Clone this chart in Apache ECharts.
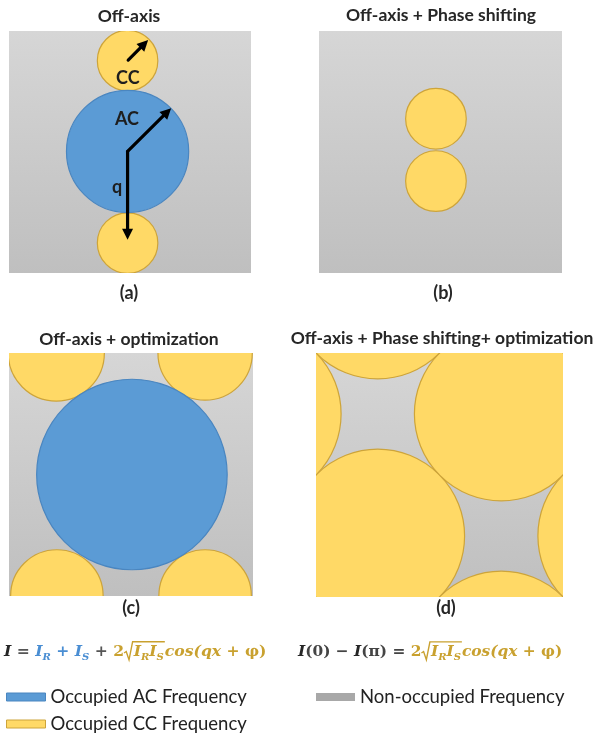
<!DOCTYPE html>
<html>
<head>
<meta charset="utf-8">
<script src="https://cdn.jsdelivr.net/npm/echarts@6/dist/echarts.min.js"></script>
<style>
  html, body { margin: 0; padding: 0; background: #ffffff; }
  #chart { width: 594px; height: 737px; }
</style>
</head>
<body>
<div id="chart"></div>
<script>
// ---- values (spectrum units: each panel spans 0..8 on both axes) ----
const panelTitles = ['Off-axis', 'Off-axis + Phase shifting', 'Off-axis + optimization', 'Off-axis + Phase shifting+ optimization'];
const panelTags = ['(a)', '(b)', '(c)', '(d)'];
const legendNames = ['Occupied AC Frequency', 'Occupied CC Frequency', 'Non-occupied Frequency'];

// spectrum frame of every panel: [x0, y0, x1, y1]
const frame = [[0, 0, 8, 8]];

// autocorrelation (AC) disks per panel: [cx, cy, r]
const acA = [[3.92, 4.02, 2.02]];
const acC = [[4.03, 4.0, 3.13]];

// cross-correlation (CC) disks per panel: [cx, cy, r]
const ccA = [[3.92, 7.02, 1.0], [3.92, 0.99, 1.0]];
const ccB = [[3.85, 5.1, 1.0], [3.85, 3.04, 1.0]];
const ccC = [[1.55, 8.0, 1.58], [6.43, 8.0, 1.55], [1.57, 0.0, 1.52], [6.43, 0.0, 1.52]];
const ccD = [[2, 2, 2.83], [6, 6, 2.83], [10, 2, 2.83], [2, 10, 2.83], [-2, 6, 2.83], [6, -2, 2.83]];

// vectors in panel (a): [x0, y0, x1, y1]
const vectorsA = [[3.92, 4.02, 5.36, 5.45], [3.92, 4.02, 3.92, 1.1], [3.94, 7.04, 4.6, 7.7]];
// marker names in panel (a)
const markNames = ['CC', 'AC', 'q'];
const markPos = [[3.93, 6.45], [3.9, 5.09], [3.57, 2.84]];

// ---- styling ----
const BLUE = '#5b9bd5', BLUE_EDGE = '#4a86c0';
const YELLOW = '#ffd966', YELLOW_EDGE = '#cda43a';
const GRAY_LEG = '#a8a8a8';
const INK = '#262626';
const GOLD = '#c9a12f';
const MATHBLUE = '#4a8ed3';
const MATHFONT = '"DejaVu Serif"';

const grids = [
  { left: 9, top: 31, width: 242, height: 242 },
  { left: 319, top: 31, width: 243, height: 242 },
  { left: 9, top: 353, width: 244, height: 243 },
  { left: 316, top: 353, width: 247, height: 244 }
];
const titlePos = [[129, 16], [441, 15], [129, 339], [442, 338]];
const tagPos = [[129, 293], [443, 293], [131, 608], [446, 608]];

const chart = echarts.init(document.getElementById('chart'), null, { renderer: 'canvas' });

function frameSeries(gi) {
  return {
    type: 'custom', name: legendNames[2], xAxisIndex: gi, yAxisIndex: gi,
    data: frame, z: 1, silent: true, itemStyle: { color: GRAY_LEG },
    renderItem(params, api) {
      const p0 = api.coord([api.value(0), api.value(3)]);
      const p1 = api.coord([api.value(2), api.value(1)]);
      return {
        type: 'rect',
        shape: { x: p0[0], y: p0[1], width: p1[0] - p0[0], height: p1[1] - p0[1] },
        style: { fill: new echarts.graphic.LinearGradient(0, 0, 0, 1, [
          { offset: 0, color: '#d6d6d6' }, { offset: 1, color: '#bfbfbf' }]) }
      };
    }
  };
}

function diskSeries(name, gi, data, fill, edge, z) {
  return {
    type: 'custom', name, xAxisIndex: gi, yAxisIndex: gi, data, z, clip: true, silent: true,
    itemStyle: { color: fill },
    renderItem(params, api) {
      const c = api.coord([api.value(0), api.value(1)]);
      const s = api.size([api.value(2), api.value(2)]);
      return {
        type: 'circle',
        shape: { cx: c[0], cy: c[1], r: (s[0] + s[1]) / 2 },
        style: { fill, stroke: edge, lineWidth: 1.2 }
      };
    }
  };
}

const vectorSeries = {
  type: 'custom', name: 'vectors', xAxisIndex: 0, yAxisIndex: 0, data: vectorsA, z: 5, silent: true,
  renderItem(params, api) {
    const a = api.coord([api.value(0), api.value(1)]);
    const b = api.coord([api.value(2), api.value(3)]);
    const dx = b[0] - a[0], dy = b[1] - a[1], L = Math.hypot(dx, dy);
    const ux = dx / L, uy = dy / L, hl = 11, hw = 5.5;
    const bx = b[0] - ux * hl, by = b[1] - uy * hl;
    return {
      type: 'group', children: [
        { type: 'line', shape: { x1: a[0], y1: a[1], x2: bx + ux, y2: by + uy },
          style: { stroke: '#000', lineWidth: 3.2, lineCap: 'round' } },
        { type: 'polygon', shape: { points: [[b[0], b[1]], [bx - uy * hw, by + ux * hw], [bx + uy * hw, by - ux * hw]] },
          style: { fill: '#000' } }
      ]
    };
  }
};

const markSeries = {
  type: 'custom', name: 'marks', xAxisIndex: 0, yAxisIndex: 0, data: markPos, z: 6, silent: true,
  renderItem(params, api) {
    const c = api.coord([api.value(0), api.value(1)]);
    return {
      type: 'text', x: c[0], y: c[1],
      style: { text: markNames[params.dataIndex], fill: '#1e1e1e', font: 'bold 18px Lato',
        align: 'center', verticalAlign: 'middle' }
    };
  }
};

// ---- math typesetting helpers (text runs with subscripts and radicals) ----
const mctx = document.createElement('canvas').getContext('2d');
function fontOf(st, size, family) {
  return (st.indexOf('i') >= 0 ? 'italic ' : '') + (st.indexOf('b') >= 0 ? 'bold ' : '') + size + 'px ' + family;
}
function segWidth(seg, size, family) {
  if (seg.root) return size * 0.62;
  if (seg.rootEnd) return 1;
  const sz = seg.sub ? Math.round(size * 0.66) : size;
  mctx.font = fontOf(seg.s || 'bi', sz, family);
  return mctx.measureText(seg.t).width;
}
function mathRun(segs, x, y, size, align, family) {
  family = family || MATHFONT;
  const widths = segs.map(s => segWidth(s, size, family));
  const total = widths.reduce((p, q) => p + q, 0);
  let cx = align === 'center' ? x - total / 2 : x;
  const out = [];
  let rootStart = null, rootColor = INK;
  segs.forEach((seg, i) => {
    if (seg.root) { rootStart = cx; rootColor = seg.c; }
    else if (seg.rootEnd) {
      const top = y - size * 0.66;
      out.push({ type: 'polyline', shape: { points: [
        [rootStart, y + 1], [rootStart + size * 0.14, y - 0.5], [rootStart + size * 0.32, y + size * 0.5],
        [rootStart + size * 0.55, top], [cx + 1, top]] },
        style: { stroke: rootColor, lineWidth: 1.4, fill: null } });
    } else {
      const sz = seg.sub ? Math.round(size * 0.66) : size;
      out.push({ type: 'text', x: cx, y: seg.sub ? y + size * 0.32 : y,
        style: { text: seg.t, fill: seg.c, font: fontOf(seg.s || 'bi', sz, family), align: 'left', verticalAlign: 'middle' } });
    }
    cx += widths[i];
  });
  return { els: out, width: total };
}
function fraction(num, den, x, y, size, ruleW) {
  const fam = '"Liberation Serif"';
  const n = mathRun(num, x, y - size * 0.72, size, 'center', fam);
  const d = mathRun(den, x, y + size * 0.82, size, 'center', fam);
  const w = ruleW || Math.max(n.width, d.width) + 4;
  return n.els.concat(d.els, [{ type: 'line', shape: { x1: x - w / 2, y1: y, x2: x + w / 2, y2: y },
    style: { stroke: '#7a7a7a', lineWidth: 2 } }]);
}

const radiusCC = fraction(
  [{ t: 'K', c: INK }, { t: '0', c: INK, sub: true }, { t: 'NA', c: INK }],
  [{ t: 'αM', c: INK }], 186, 53, 16, 48);
const radiusAC = fraction(
  [{ t: '2', c: INK, s: 'b' }, { t: 'K', c: INK }, { t: '0', c: INK, sub: true }, { t: 'NA', c: INK }],
  [{ t: 'αM', c: INK }], 210, 110, 16, 57);

const eqC = mathRun([
  { t: 'I', c: INK }, { t: ' = ', c: '#555', s: 'b' },
  { t: 'I', c: MATHBLUE }, { t: 'R', c: MATHBLUE, sub: true }, { t: ' + ', c: MATHBLUE, s: 'b' },
  { t: 'I', c: MATHBLUE }, { t: 'S', c: MATHBLUE, sub: true }, { t: ' + ', c: '#555', s: 'b' },
  { t: '2', c: GOLD, s: 'b' }, { root: true, c: GOLD },
  { t: 'I', c: GOLD }, { t: 'R', c: GOLD, sub: true }, { t: 'I', c: GOLD }, { t: 'S', c: GOLD, sub: true },
  { rootEnd: true }, { t: 'cos(qx + ', c: GOLD }, { t: 'φ)', c: GOLD, s: 'b' }
], 4, 652, 15.6, 'left');
const eqD = mathRun([
  { t: 'I', c: INK }, { t: '(0) − ', c: '#444', s: 'b' }, { t: 'I', c: INK }, { t: '(π) = ', c: '#444', s: 'b' },
  { t: '2', c: GOLD, s: 'b' }, { root: true, c: GOLD },
  { t: 'I', c: GOLD }, { t: 'R', c: GOLD, sub: true }, { t: 'I', c: GOLD }, { t: 'S', c: GOLD, sub: true },
  { rootEnd: true }, { t: 'cos(qx + ', c: GOLD }, { t: 'φ)', c: GOLD, s: 'b' }
], 298, 652, 15.4, 'left');

const headings = [];
panelTitles.forEach((t, i) => headings.push({ type: 'text', x: titlePos[i][0], y: titlePos[i][1],
  style: { text: t, fill: INK, font: 'bold 17.5px Lato', align: 'center', verticalAlign: 'middle' } }));
panelTags.forEach((t, i) => headings.push({ type: 'text', x: tagPos[i][0], y: tagPos[i][1],
  style: { text: t, fill: INK, font: 'bold 18px Lato', align: 'center', verticalAlign: 'middle' } }));

const legendText = { fontFamily: 'Lato', fontSize: 18.5, color: '#222', lineHeight: 20 };
function legendBox(left, top, name, style) {
  return { left, top, orient: 'horizontal', icon: 'rect', itemWidth: 39, itemHeight: 8,
    selectedMode: false, textStyle: legendText, data: [{ name, itemStyle: style }] };
}

chart.setOption({
  animation: false,
  backgroundColor: '#ffffff',
  grid: grids.map(g => Object.assign({ containLabel: false, show: false }, g)),
  xAxis: grids.map((g, i) => ({ type: 'value', gridIndex: i, min: 0, max: 8, show: false })),
  yAxis: grids.map((g, i) => ({ type: 'value', gridIndex: i, min: 0, max: 8, show: false })),
  legend: [
    legendBox(1, 682, legendNames[0], { color: BLUE, borderColor: BLUE_EDGE, borderWidth: 1 }),
    legendBox(1, 709, legendNames[1], { color: YELLOW, borderColor: YELLOW_EDGE, borderWidth: 1 }),
    legendBox(311, 682, legendNames[2], { color: GRAY_LEG })
  ],
  series: [
    frameSeries(0), frameSeries(1), frameSeries(2), frameSeries(3),
    diskSeries(legendNames[1], 0, ccA, YELLOW, YELLOW_EDGE, 2),
    diskSeries(legendNames[0], 0, acA, BLUE, BLUE_EDGE, 3),
    diskSeries(legendNames[1], 1, ccB, YELLOW, YELLOW_EDGE, 2),
    diskSeries(legendNames[1], 2, ccC, YELLOW, YELLOW_EDGE, 2),
    diskSeries(legendNames[0], 2, acC, BLUE, BLUE_EDGE, 3),
    diskSeries(legendNames[1], 3, ccD, YELLOW, YELLOW_EDGE, 2),
    vectorSeries, markSeries
  ],
  graphic: headings.concat(radiusCC, radiusAC, eqC.els, eqD.els).map(e => Object.assign({ silent: true }, e))
});
</script>
</body>
</html>
